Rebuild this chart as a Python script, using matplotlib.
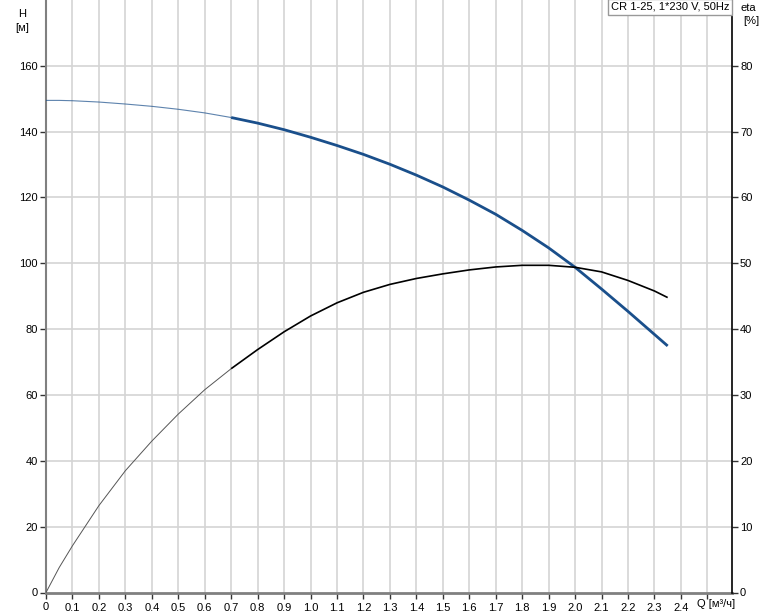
import matplotlib
matplotlib.use("Agg")
import matplotlib.pyplot as plt
from matplotlib.ticker import FixedLocator, FuncFormatter

plt.rcParams['font.family'] = ['Liberation Sans', 'DejaVu Sans']

# Pump curve CR 1-25, 1*230 V, 50Hz
title = "CR 1-25, 1*230 V, 50Hz"

q = [0.0, 0.05, 0.1, 0.2, 0.3, 0.4, 0.5, 0.6, 0.7, 0.8, 0.9, 1.0, 1.1, 1.2,
     1.3, 1.4, 1.5, 1.6, 1.7, 1.8, 1.9, 2.0, 2.1, 2.2, 2.3, 2.35]
head = [149.5, 149.5, 149.4, 149.0, 148.4, 147.7, 146.8, 145.7, 144.3, 142.6,
        140.6, 138.3, 135.8, 133.1, 130.1, 126.8, 123.2, 119.2, 114.9, 110.0,
        104.7, 98.8, 92.2, 85.4, 78.4, 74.9]
eta = [0.0, 3.8, 7.1, 13.2, 18.5, 23.0, 27.1, 30.8, 34.0, 36.9, 39.6, 42.0,
       44.0, 45.6, 46.8, 47.7, 48.4, 49.0, 49.45, 49.7, 49.7, 49.4, 48.7, 47.4,
       45.8, 44.8]
q_split = 0.7  # below this the curves are drawn thin

x_ticks = [i / 10 for i in range(26)]
h_ticks = list(range(0, 161, 20))
eta_ticks = list(range(0, 81, 10))

blue = '#1a4f8b'
grid_c = '#d4d4d4'

fig = plt.figure(figsize=(7.74, 6.11), dpi=100)
ax = fig.add_axes([46 / 774, 18.5 / 611, (731.7 - 46) / 774, 592.5 / 611])
ax2 = ax.twinx()

ax.set_xlim(0, 2.592)
ax.set_ylim(0, 180)
ax2.set_ylim(0, 90)

# grid
for xv in x_ticks[1:]:
    ax.axvline(xv, color=grid_c, lw=1.2, zorder=0)
for yv in h_ticks[1:]:
    ax.axhline(yv, color=grid_c, lw=1.2, zorder=0)

i_split = q.index(q_split)
# head curve
ax.plot(q[:i_split + 1], head[:i_split + 1], color=blue, lw=0.8, alpha=0.7, zorder=3)
ax.plot(q[i_split:], head[i_split:], color=blue, lw=2.0, zorder=3,
        solid_capstyle='butt')
# efficiency curve
ax2.plot(q[:i_split + 1], eta[:i_split + 1], color='#555555', lw=0.7, zorder=3)
ax2.plot(q[i_split:], eta[i_split:], color='black', lw=1.2, zorder=3,
         solid_capstyle='butt')

# axes styling
ax.spines['top'].set_visible(False)
ax2.spines['top'].set_visible(False)
ax.spines['right'].set_visible(False)
ax2.spines['left'].set_visible(False)
ax2.spines['bottom'].set_visible(False)
ax.spines['left'].set_color('#808080')
ax.spines['left'].set_linewidth(1.5)
ax.spines['bottom'].set_color('#808080')
ax.spines['bottom'].set_linewidth(2.0)
ax2.spines['right'].set_color('black')
ax2.spines['right'].set_linewidth(1.2)

ax.xaxis.set_major_locator(FixedLocator(x_ticks))
ax.xaxis.set_major_formatter(FuncFormatter(
    lambda v, p: '' if v > 2.45 else ('0' if v == 0 else f"{v:.1f}".replace('.', ','))))
ax.yaxis.set_major_locator(FixedLocator(h_ticks))
ax2.yaxis.set_major_locator(FixedLocator(eta_ticks))

ax.tick_params(axis='both', direction='out', length=4, width=1, color='#333333',
               labelsize=8, pad=2)
ax.tick_params(axis='x', pad=3)
ax2.tick_params(axis='y', direction='out', length=4, width=1, color='#333333',
                labelsize=8, pad=2)

# axis labels
fig.text(22 / 774, 1 - 14 / 611, "H", fontsize=8, ha='center', va='center')
fig.text(22 / 774, 1 - 28 / 611, "[м]", fontsize=8, ha='center', va='center')
fig.text(748 / 774, 1 - 8 / 611, "eta", fontsize=8, ha='center', va='center')
fig.text(751 / 774, 1 - 21 / 611, "[%]", fontsize=8, ha='center', va='center')
fig.text(697 / 774, 1 - 604 / 611, "Q [м³/ч]", fontsize=8, ha='left', va='center')

# legend box with pump name
ax2.text(0.997, 0.997, title, transform=ax2.transAxes, fontsize=8,
         ha='right', va='top', zorder=5,
         bbox=dict(boxstyle='square,pad=0.25', fc='white', ec='#999999', lw=1))

fig.savefig('out.png', dpi=100)
